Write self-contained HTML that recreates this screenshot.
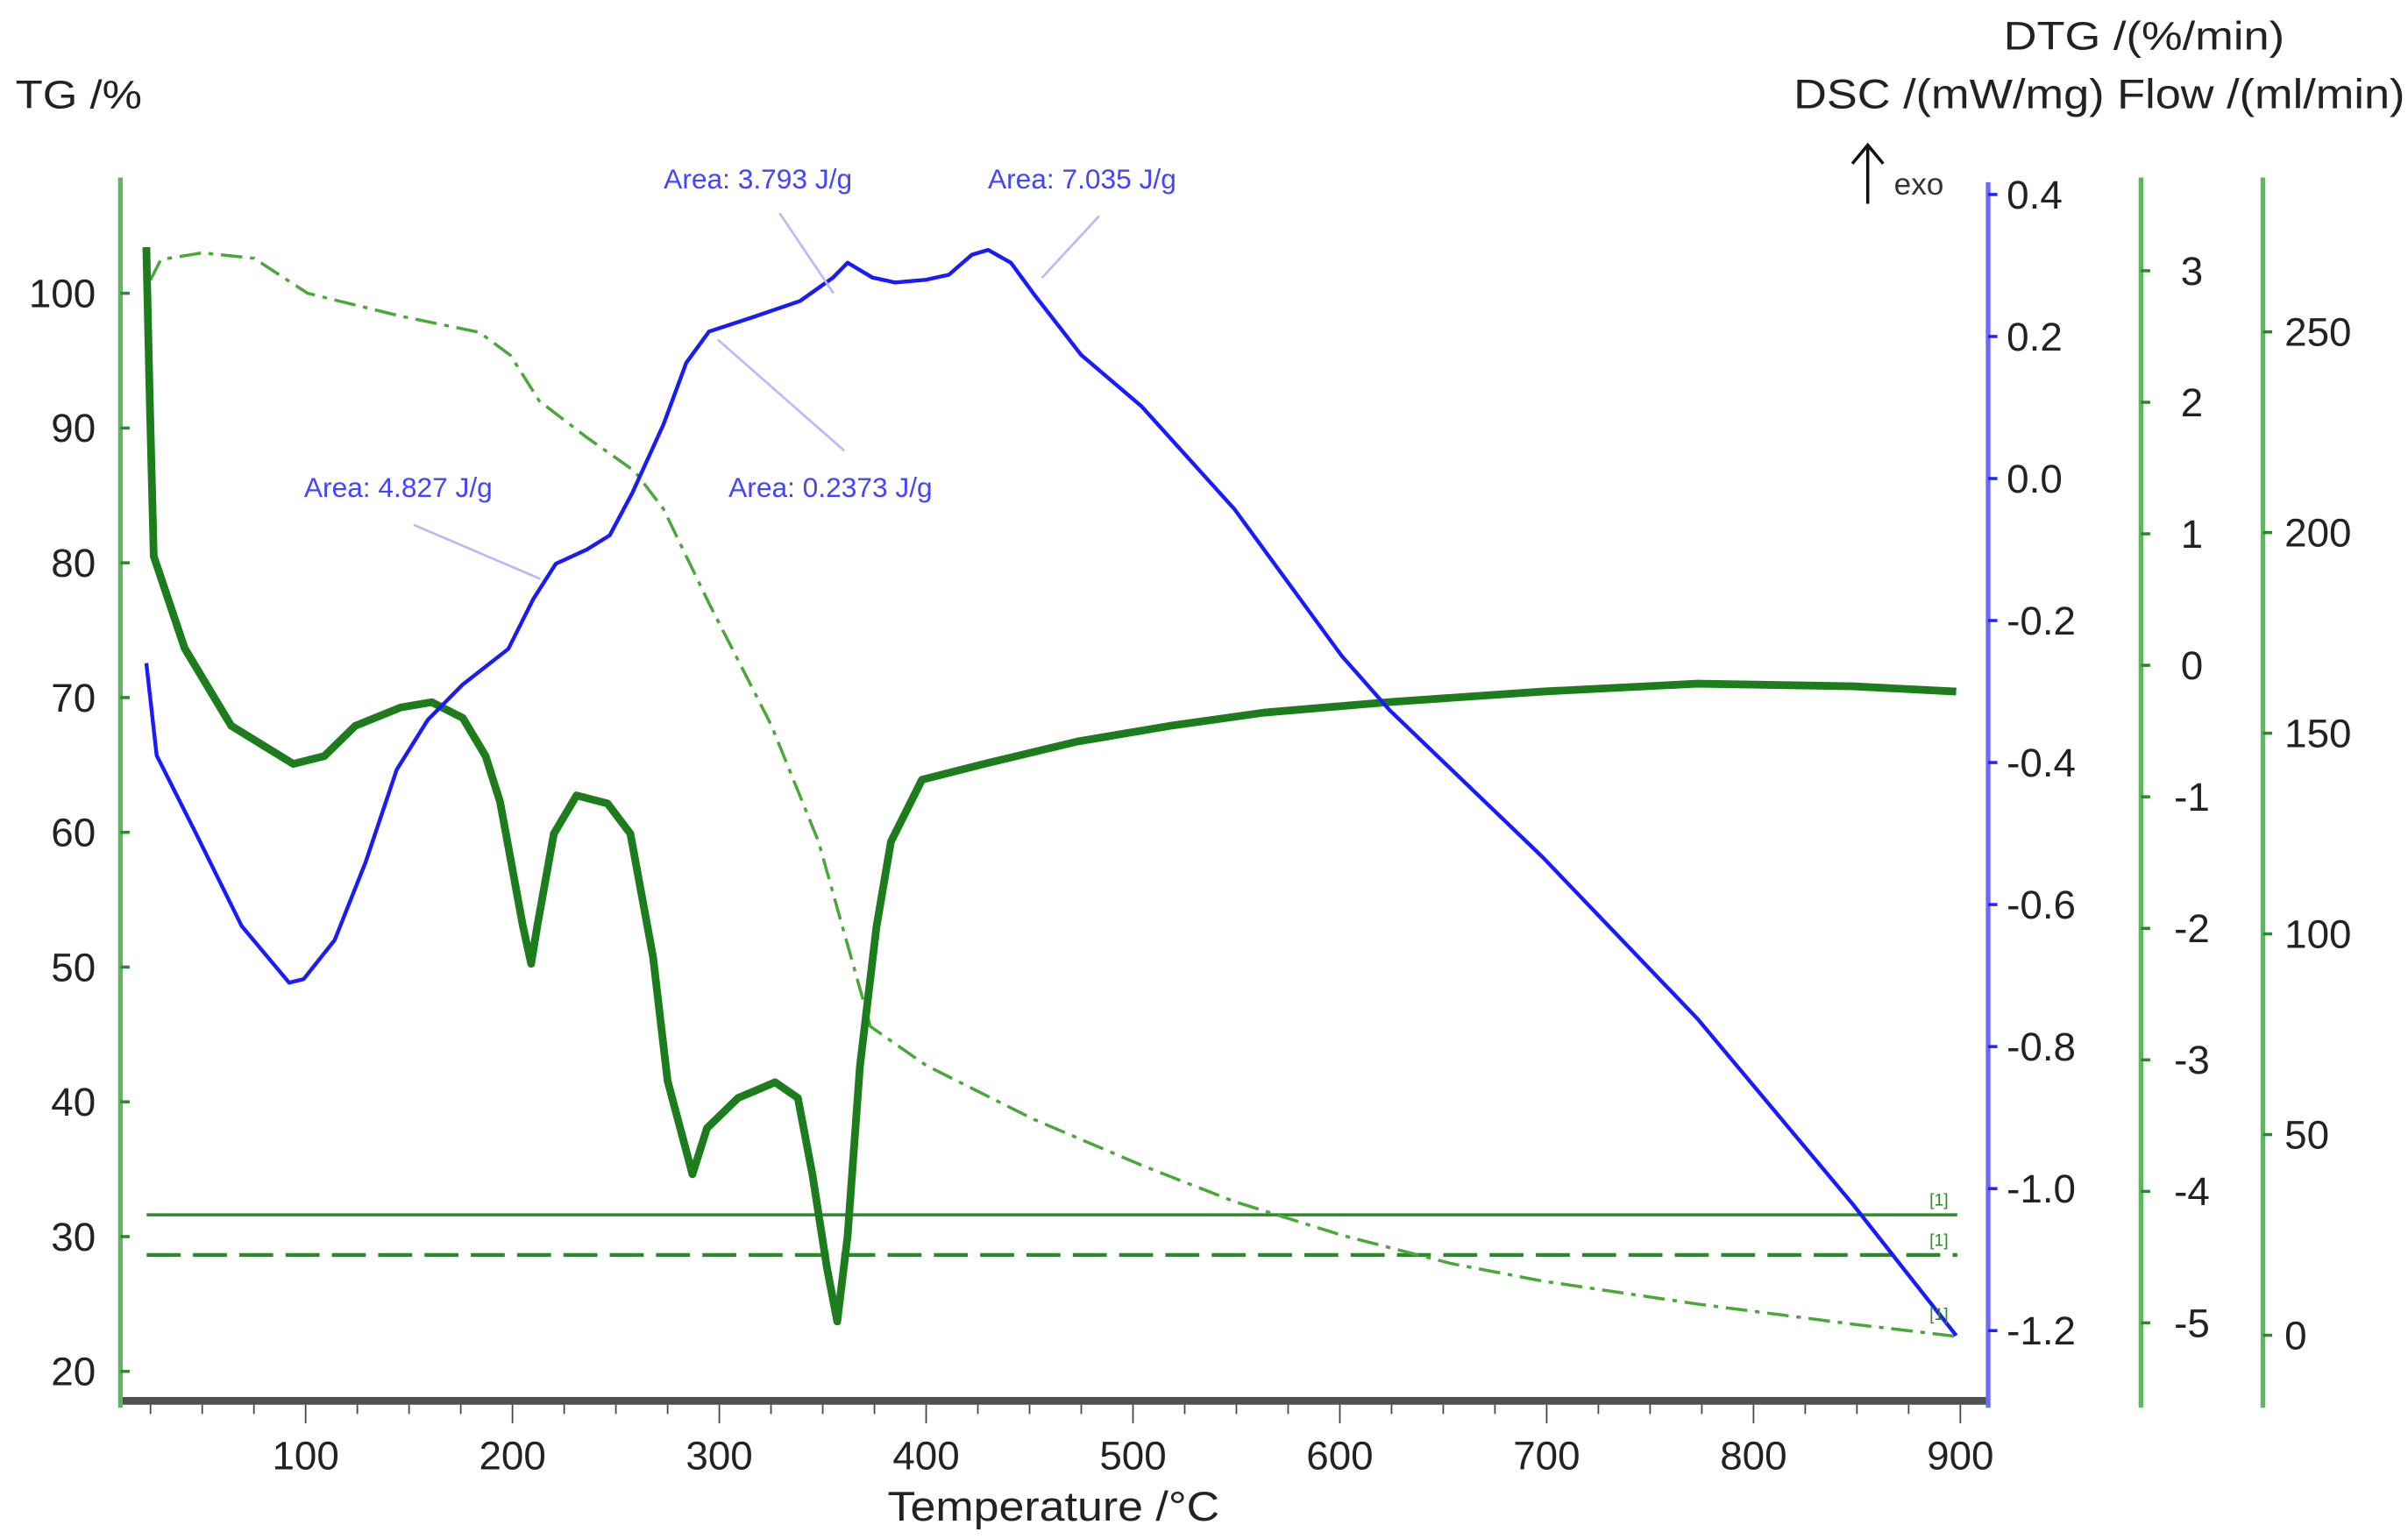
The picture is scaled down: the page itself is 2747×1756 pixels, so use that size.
<!DOCTYPE html>
<html><head><meta charset="utf-8"><style>
html,body{margin:0;padding:0;background:#fff;}
svg{display:block;font-family:"Liberation Sans",Arial,sans-serif;}
</style></head><body>
<svg id="chart" width="2747" height="1756" viewBox="0 0 1560 997" preserveAspectRatio="none" xmlns="http://www.w3.org/2000/svg">
<g id="axes"></g>
<g id="series"></g>
<g id="labels"></g>
</svg>
<script>
// ---- data ----
const xTicks = [100,200,300,400,500,600,700,800,900];
const tgTicks = [100,90,80,70,60,50,40,30,20];
const dscTicks = [0.4,0.2,0.0,-0.2,-0.4,-0.6,-0.8,-1.0,-1.2];
const dtgTicks = [3,2,1,0,-1,-2,-3,-4,-5];
const flowTicks = [250,200,150,100,50,0];

const tgT = [25,30,50,75,101,146,184,199,213,236,259,273,295,325,348,370,373,400,452,504,549,601,654,698,773,848,898];
const tgV = [101,102.5,103,102.6,100,98.3,97.1,95.4,92,89.3,86.8,84,77,68,59.3,47.3,45.6,42.7,38.7,35.3,32.6,30.1,28,26.7,25,23.5,22.6];

const dscT = [23,28,47,69,92,99,114,129,144,159,176,198,210,221,236,247,258,273,284,295,317,339,355,362,374,385,400,411,422,430,441,452,475,504,549,601,624,698,773,848,898];
const dscV = [-0.26,-0.39,-0.50,-0.63,-0.71,-0.705,-0.65,-0.54,-0.41,-0.34,-0.29,-0.24,-0.17,-0.12,-0.10,-0.08,-0.02,0.076,0.163,0.207,0.228,0.25,0.283,0.304,0.283,0.276,0.28,0.287,0.315,0.322,0.304,0.26,0.174,0.102,-0.043,-0.25,-0.326,-0.533,-0.761,-1.022,-1.207];

const dtgT = [23,24.5,26.6,41.5,64,94,109,124,146,161,176,187,194,205,209,212,220,231,246,257,268,275,287,294,309,327,338,345,352,357,362,368,376,383,398,428,473,518,563,623,698,773,848,898];
const dtgV = [3.18,2.12,0.83,0.13,-0.46,-0.75,-0.69,-0.46,-0.32,-0.28,-0.40,-0.69,-1.04,-1.98,-2.27,-1.98,-1.28,-0.99,-1.05,-1.28,-2.22,-3.16,-3.87,-3.52,-3.29,-3.17,-3.29,-3.87,-4.58,-4.99,-4.34,-3.05,-1.99,-1.34,-0.87,-0.75,-0.58,-0.46,-0.36,-0.28,-0.20,-0.14,-0.16,-0.20];

const flowSolid = 30, flowDashed = 20;

// ---- scales ----
const X = t => 198 + (t-100)*1.34;
const Ytg = v => 190 + (100-v)*8.73;
const Ydsc = v => 310 - v*460;
const Ydtg = v => 431 - v*85.2;
const Yflow = v => 865 - v*2.6;

const NS="http://www.w3.org/2000/svg";
function mk(tag, attrs, parent){const e=document.createElementNS(NS,tag);for(const k in attrs)e.setAttribute(k,attrs[k]);parent.appendChild(e);return e;}
const axes=document.getElementById('axes'), series=document.getElementById('series'), labels=document.getElementById('labels');

// x axis bar
let e=mk('rect',{x:78,y:905,width:1209,height:5,fill:'#505050'},axes);


for(let t=25;t<=900;t+=25){
  const maj=t%100===0;
  mk('line',{x1:X(t),x2:X(t),y1:910,y2:maj?922:916,stroke:'#444','stroke-width':1},axes);
}
xTicks.forEach(t=>{const tx=mk('text',{x:X(t),y:952,'font-size':26,'text-anchor':'middle',fill:'#222'},labels);tx.textContent=t;

});
e=mk('text',{x:575,y:985,'font-size':27,textLength:215,lengthAdjust:'spacingAndGlyphs',fill:'#222'},labels);e.textContent='Temperature /°C';



// TG axis
e=mk('line',{x1:78,x2:78,y1:115,y2:912,stroke:'#5cb85c','stroke-width':3},axes);


tgTicks.forEach(v=>{mk('line',{x1:78,x2:84,y1:Ytg(v),y2:Ytg(v),stroke:'#2a8a2a','stroke-width':2},axes);
const tx=mk('text',{x:62,y:Ytg(v)+9,'font-size':26,'text-anchor':'end',fill:'#222'},labels);tx.textContent=v;

});
e=mk('text',{x:10,y:70,'font-size':26,textLength:82,lengthAdjust:'spacingAndGlyphs',fill:'#222'},labels);e.textContent='TG /%';



// DSC axis
e=mk('line',{x1:1288,x2:1288,y1:118,y2:912,stroke:'#6a6aff','stroke-width':3},axes);


dscTicks.forEach(v=>{mk('line',{x1:1288,x2:1294,y1:Ydsc(v),y2:Ydsc(v),stroke:'#2222ff','stroke-width':2},axes);
const tx=mk('text',{x:1300,y:Ydsc(v)+9,'font-size':26,fill:'#222'},labels);tx.textContent=v.toFixed(1);

});

// DTG axis
e=mk('line',{x1:1387,x2:1387,y1:115,y2:912,stroke:'#5cb85c','stroke-width':3},axes);


dtgTicks.forEach(v=>{mk('line',{x1:1387,x2:1393,y1:Ydtg(v),y2:Ydtg(v),stroke:'#2a8a2a','stroke-width':2},axes);
const tx=mk('text',{x:1420,y:Ydtg(v)+9,'font-size':26,'text-anchor':'middle',fill:'#222'},labels);tx.textContent=v;

});

// Flow axis
e=mk('line',{x1:1466,x2:1466,y1:115,y2:912,stroke:'#5cb85c','stroke-width':3},axes);


flowTicks.forEach(v=>{mk('line',{x1:1466,x2:1472,y1:Yflow(v),y2:Yflow(v),stroke:'#2a8a2a','stroke-width':2},axes);
const tx=mk('text',{x:1480,y:Yflow(v)+9,'font-size':26,fill:'#222'},labels);tx.textContent=v;

});

e=mk('text',{x:1298,y:32,'font-size':26,textLength:182,lengthAdjust:'spacingAndGlyphs',fill:'#222'},labels);e.textContent='DTG /(%/min)';


e=mk('text',{x:1162,y:70,'font-size':27,textLength:396,lengthAdjust:'spacingAndGlyphs',fill:'#222'},labels);e.textContent='DSC /(mW/mg) Flow /(ml/min)';


e=mk('path',{d:'M1210 132 L1210 94 M1200 106 L1210 94 L1220 106',stroke:'#111','stroke-width':2,fill:'none'},labels);


e=mk('text',{x:1227,y:126,'font-size':20,fill:'#333'},labels);e.textContent='exo';



function pathFrom(T,V,Y){return T.map((t,i)=>(i?'L':'M')+X(t).toFixed(1)+' '+Y(V[i]).toFixed(1)).join(' ');}

// flow lines
e=mk('line',{x1:95,x2:1268,y1:Yflow(flowSolid),y2:Yflow(flowSolid),stroke:'#2a8a2a','stroke-width':2},series);


e=mk('line',{x1:95,x2:1268,y1:Yflow(flowDashed),y2:Yflow(flowDashed),stroke:'#2a8a2a','stroke-width':2.5,'stroke-dasharray':'22 8'},series);


[[Yflow(flowSolid)-6],[Yflow(flowDashed)-6],[855]].forEach(a=>{const t=mk('text',{x:1250,y:a[0],'font-size':11,fill:'#2a8a2a'},labels);t.textContent='[1]';

});

// TG
e=mk('path',{d:pathFrom(tgT,tgV,Ytg),stroke:'#4aa838','stroke-width':2,fill:'none','stroke-dasharray':'14 5 3 5'},series);


// DTG
e=mk('path',{d:pathFrom(dtgT,dtgV,Ydtg),stroke:'#1d7d1d','stroke-width':5,fill:'none','stroke-linejoin':'round'},series);


// DSC
e=mk('path',{d:pathFrom(dscT,dscV,Ydsc),stroke:'#1a1aff','stroke-width':2.5,fill:'none','stroke-linejoin':'round'},series);



// annotations
const ann=[['Area: 3.793 J/g',430,122,'M505 138 L540 190'],['Area: 7.035 J/g',640,122,'M712 140 L675 180'],['Area: 4.827 J/g',197,322,'M268 340 L350 375'],['Area: 0.2373 J/g',472,322,'M465 220 L547 292']];
ann.forEach(a=>{const t=mk('text',{x:a[1],y:a[2],'font-size':18,fill:'#4444ff'},labels);t.textContent=a[0];


mk('path',{d:a[3],stroke:'#b8b8ff','stroke-width':1.5,fill:'none'},labels);});
</script>
</body></html>
